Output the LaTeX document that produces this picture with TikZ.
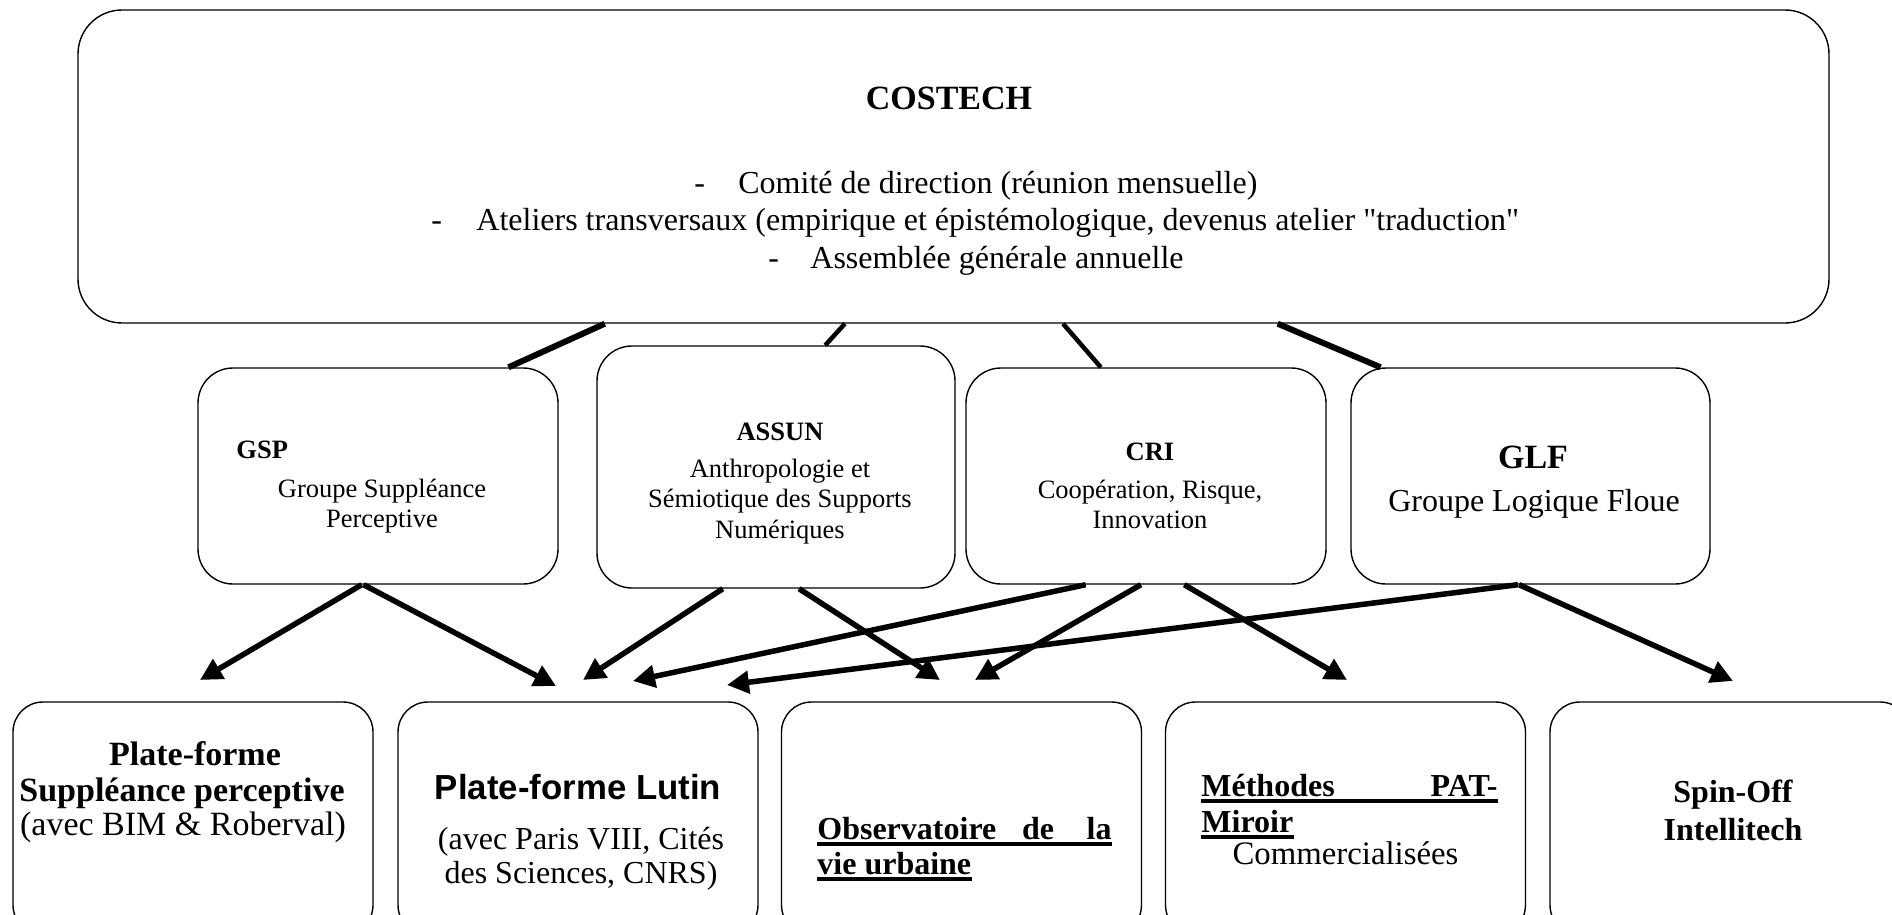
\documentclass[tikz,border=0pt]{standalone}
\usepackage{fontspec}
\setmainfont{Liberation Serif}[Ligatures=TeXOff]
\setsansfont{Liberation Sans}
\usetikzlibrary{arrows.meta,calc}
\begin{document}
\begin{tikzpicture}[x=0.5pt,y=-0.5pt,
  frame/.style={draw,line width=0.7pt,inner sep=0pt},
  topbox/.style={frame,rounded corners=22pt},
  midbox/.style={frame,rounded corners=17.5pt},
  lowbox/.style={frame,rounded corners=15pt,minimum width=180pt,minimum height=116.5pt},
  txt/.style={inner sep=0pt,anchor=base},
  fsixteen/.style={font=\fontsize{16pt}{19pt}\selectfont},
  fsixteenb/.style={font=\fontsize{16pt}{19pt}\selectfont\bfseries},
  fseventeen/.style={font=\fontsize{17pt}{20pt}\selectfont},
  fcomm/.style={font=\fontsize{16.4pt}{19pt}\selectfont},
  fthirteen/.style={font=\fontsize{13.25pt}{16pt}\selectfont},
  fthirteenb/.style={font=\fontsize{13.25pt}{16pt}\selectfont\bfseries},
  fseventeenb/.style={font=\fontsize{17pt}{20pt}\selectfont\bfseries},
  fsansb/.style={font=\fontsize{17.4pt}{20pt}\selectfont\sffamily\bfseries},
  ul/.style={line width=1.65pt},
  thick conn/.style={line width=3pt},
  thin conn/.style={line width=2.25pt},
  arr/.style={line width=2.75pt,-{Triangle[length=11pt,width=11pt]}}]
\useasboundingbox (0,0) rectangle (1892,915);

% top box
\node[topbox,minimum width=875.5pt,minimum height=156.5pt] (top) at (953.5,166.5) {};
\node[txt,fseventeenb] (costech) at (949,110) {COSTECH};
\node[txt,fsixteen,anchor=base west] (d1) at (694,194) {-};
\node[txt,fsixteen,anchor=base west] (l1) at (738,194) {Comité de direction (réunion mensuelle)};
\node[txt,fsixteen,anchor=base west] (d2) at (431,231) {-};
\node[txt,fsixteen,anchor=base west] (l2) at (476,231) {Ateliers transversaux (empirique et épistémologique, devenus atelier "traduction"};
\node[txt,fsixteen,anchor=base west] (d3) at (768,268) {-};
\node[txt,fsixteen,anchor=base west] (l3) at (810,268) {Assemblée générale annuelle};

% middle boxes
\node[midbox,minimum width=180pt,minimum height=108pt] (gsp) at (378,476) {};
\node[midbox,minimum width=179pt,minimum height=121pt] (assun) at (776,467) {};
\node[midbox,minimum width=180pt,minimum height=108pt] (cri) at (1146,476) {};
\node[midbox,minimum width=179.5pt,minimum height=108pt] (glf) at (1530.5,476) {};

\node[txt,fthirteenb,anchor=base west] (gspT) at (236,458) {GSP};
\node[txt,fthirteen] (gsp1) at (382,497) {Groupe Suppléance};
\node[txt,fthirteen] (gsp2) at (382,527) {Perceptive};
\node[txt,fthirteenb] (assT) at (780,440) {ASSUN};
\node[txt,fthirteen] (ass1) at (780,477) {Anthropologie et};
\node[txt,fthirteen] (ass2) at (780,507) {Sémiotique des Supports};
\node[txt,fthirteen] (ass3) at (780,538) {Numériques};
\node[txt,fthirteenb] (criT) at (1150,460) {CRI};
\node[txt,fthirteen] (cri1) at (1150,498) {Coopération, Risque,};
\node[txt,fthirteen] (cri2) at (1150,528) {Innovation};
\node[txt,fseventeenb] (glfT) at (1533,468) {GLF};
\node[txt,fsixteen] (glf1) at (1534,511) {Groupe Logique Floue};

% bottom boxes (cut by the picture edge)
\begin{scope}
\clip (0,0) rectangle (1892,915);
\node[lowbox] (b1) at (193,818.5) {};
\node[lowbox] (b2) at (578,818.5) {};
\node[lowbox] (b3) at (961.5,818.5) {};
\node[lowbox] (b4) at (1345.5,818.5) {};
\node[lowbox] (b5) at (1730,818.5) {};
\end{scope}

\node[txt,fseventeenb] (b1a) at (195,765) {Plate-forme};
\node[txt,fseventeenb] (b1b) at (182,801) {Suppléance perceptive};
\node[txt,fseventeen] (b1c) at (183,835) {(avec BIM \& Roberval)};

\node[txt,fsansb] (b2a) at (578,799) {Plate-forme Lutin};
\node[txt,fsixteen] (b2b) at (581,849) {(avec Paris VIII, Cités};
\node[txt,fsixteen] (b2c) at (581,883) {des Sciences, CNRS)};

\node[txt,fsixteenb,anchor=base west] (ob1) at (817,839) {Observatoire};
\node[txt,fsixteenb] (ob2) at (1038,839) {de};
\node[txt,fsixteenb,anchor=base east] (ob3) at (1112,839) {la};
\node[txt,fsixteenb,anchor=base west] (ob4) at (817,874) {vie urbaine};
\draw[ul] ([yshift=-2.5pt]ob1.base west) -- ([yshift=-2.5pt]ob3.base east);
\draw[ul] ([yshift=-2.5pt]ob4.base west) -- ([yshift=-2.5pt]ob4.base east);

\node[txt,fsixteenb,anchor=base west] (me1) at (1201,796) {Méthodes};
\node[txt,fsixteenb,anchor=base east] (me2) at (1498,796) {PAT-};
\node[txt,fsixteenb,anchor=base west] (me3) at (1201,832) {Miroir};
\node[txt,fcomm] (me4) at (1345.5,864) {Commercialisées};
\draw[ul] ([yshift=-2.5pt]me1.base west) -- ([yshift=-2.5pt]me2.base east);
\draw[ul] ([yshift=-2.5pt]me3.base west) -- ([yshift=-2.5pt]me3.base east);

\node[txt,fsixteenb] (sp1) at (1733,802) {Spin-Off};
\node[txt,fsixteenb] (sp2) at (1733,840) {Intellitech};

% connectors top -> middle
\draw[thick conn] ($(top.south west)!0.301!(top.south east)$) -- ($(gsp.north west)!0.861!(gsp.north east)$);
\draw[thin conn] ($(top.south west)!0.438!(top.south east)$) -- ($(assun.north west)!0.637!(assun.north east)$);
\draw[thin conn] ($(top.south west)!0.5625!(top.south east)$) -- ($(cri.north west)!0.375!(cri.north east)$);
\draw[thick conn] ($(top.south west)!0.685!(top.south east)$) -- ($(glf.north west)!0.084!(glf.north east)$);

% arrow tips
\coordinate (a1) at (200,680);
\coordinate (a2) at (556,686);
\coordinate (a3) at (583,680);
\coordinate (a4) at (940,680);
\coordinate (a5) at (633,681);
\coordinate (a6) at (975,680);
\coordinate (a7) at (1347,680);
\coordinate (a8) at (727,685);
\coordinate (a9) at (1733,681);

\draw[arr] ($(gsp.south west)!0.455!(gsp.south east)$) -- (a1);
\draw[arr] ($(gsp.south west)!0.46!(gsp.south east)$) -- (a2);
\draw[arr] ($(assun.south west)!0.352!(assun.south east)$) -- (a3);
\draw[arr] ($(assun.south west)!0.564!(assun.south east)$) -- (a4);
\draw[arr] ($(cri.south west)!0.333!(cri.south east)$) -- (a5);
\draw[arr] ($(cri.south west)!0.486!(cri.south east)$) -- (a6);
\draw[arr] ($(cri.south west)!0.606!(cri.south east)$) -- (a7);
\draw[arr] ($(glf.south west)!0.465!(glf.south east)$) -- (a8);
\draw[arr] ($(glf.south west)!0.468!(glf.south east)$) -- (a9);
\end{tikzpicture}
\end{document}
